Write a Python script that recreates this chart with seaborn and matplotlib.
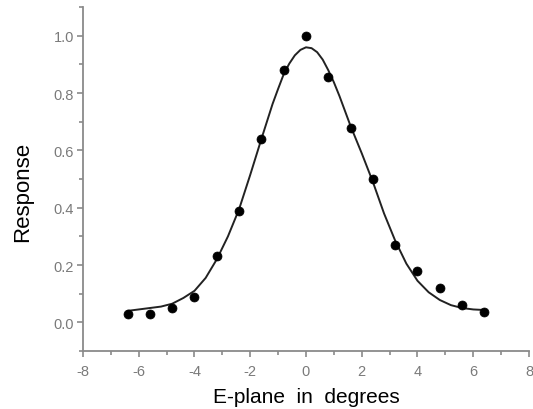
import numpy as np
import pandas as pd
import matplotlib
matplotlib.use("Agg")
import matplotlib.pyplot as plt
import seaborn as sns
from matplotlib.ticker import MultipleLocator

# measured points
angle = [-6.4, -5.6, -4.8, -4.0, -3.2, -2.4, -1.6, -0.8, 0.0,
         0.8, 1.6, 2.4, 3.2, 4.0, 4.8, 5.6, 6.4]
response = [0.03, 0.03, 0.05, 0.09, 0.23, 0.39, 0.64, 0.88, 1.0,
            0.855, 0.68, 0.50, 0.27, 0.18, 0.12, 0.06, 0.035]

# fitted curve
fit_angle = [-6.4, -6.0, -5.6, -5.2, -4.8, -4.4, -4.0, -3.6, -3.2, -2.8, -2.4,
             -2.0, -1.6, -1.2, -1.0, -0.8, -0.6, -0.4, -0.2, 0.0, 0.2, 0.4,
             0.6, 0.8, 1.0, 1.2, 1.6, 2.0, 2.4, 2.8, 3.2, 3.6, 4.0, 4.4,
             4.8, 5.2, 5.6, 6.0, 6.4]
fit_response = [0.040, 0.045, 0.050, 0.055, 0.065, 0.085, 0.110, 0.155, 0.220,
                0.300, 0.395, 0.515, 0.640, 0.762, 0.815, 0.866, 0.903, 0.932,
                0.951, 0.960, 0.957, 0.943, 0.917, 0.880, 0.838, 0.790, 0.685,
                0.590, 0.490, 0.380, 0.285, 0.205, 0.145, 0.105, 0.078, 0.060,
                0.050, 0.045, 0.043]

xticks = [-8, -6, -4, -2, 0, 2, 4, 6, 8]
yticks = [0.0, 0.2, 0.4, 0.6, 0.8, 1.0]

pts = pd.DataFrame({"angle": angle, "response": response})
fit = pd.DataFrame({"angle": fit_angle, "response": fit_response})

sns.set_style("ticks")
plt.rcParams["font.family"] = ["Liberation Sans", "DejaVu Sans"]

fig = plt.figure(figsize=(5.33, 4.10), dpi=100)
ax = fig.add_axes([0.1557, 0.1415, 0.8368, 0.8385])

sns.lineplot(data=fit, x="angle", y="response", color="#222222",
             linewidth=1.4, ax=ax)
sns.scatterplot(data=pts, x="angle", y="response", color="black",
                s=42, edgecolor="black", linewidth=0.5, zorder=3, ax=ax)

ax.set_xlim(-8, 8)
ax.set_ylim(-0.1, 1.1)
ax.set_xticks(xticks)
ax.set_yticks(yticks)
ax.set_xticklabels([str(t) for t in xticks])
ax.set_yticklabels([f"{t:.1f}" for t in yticks])
ax.xaxis.set_minor_locator(MultipleLocator(1))
ax.yaxis.set_minor_locator(MultipleLocator(0.1))

grey = "#8a8a8a"
for s in ["top", "right"]:
    ax.spines[s].set_visible(False)
for s in ["left", "bottom"]:
    ax.spines[s].set_color(grey)
    ax.spines[s].set_linewidth(1.3)
ax.tick_params(which="major", direction="out", length=4.5, width=1.2,
               color=grey, labelcolor="#7a7a7a", labelsize=10.5)
ax.tick_params(which="minor", direction="out", length=3, width=1.2,
               color=grey)
ax.tick_params(axis="x", which="major", pad=5)
ax.tick_params(axis="y", which="major", pad=2)

ax.set_xlabel("E-plane  in  degrees", fontsize=15, color="black", labelpad=6)
ax.set_ylabel("Response", fontsize=16, color="black")
ax.yaxis.set_label_coords(-0.112, 0.465)

fig.savefig("out.png", dpi=100)
